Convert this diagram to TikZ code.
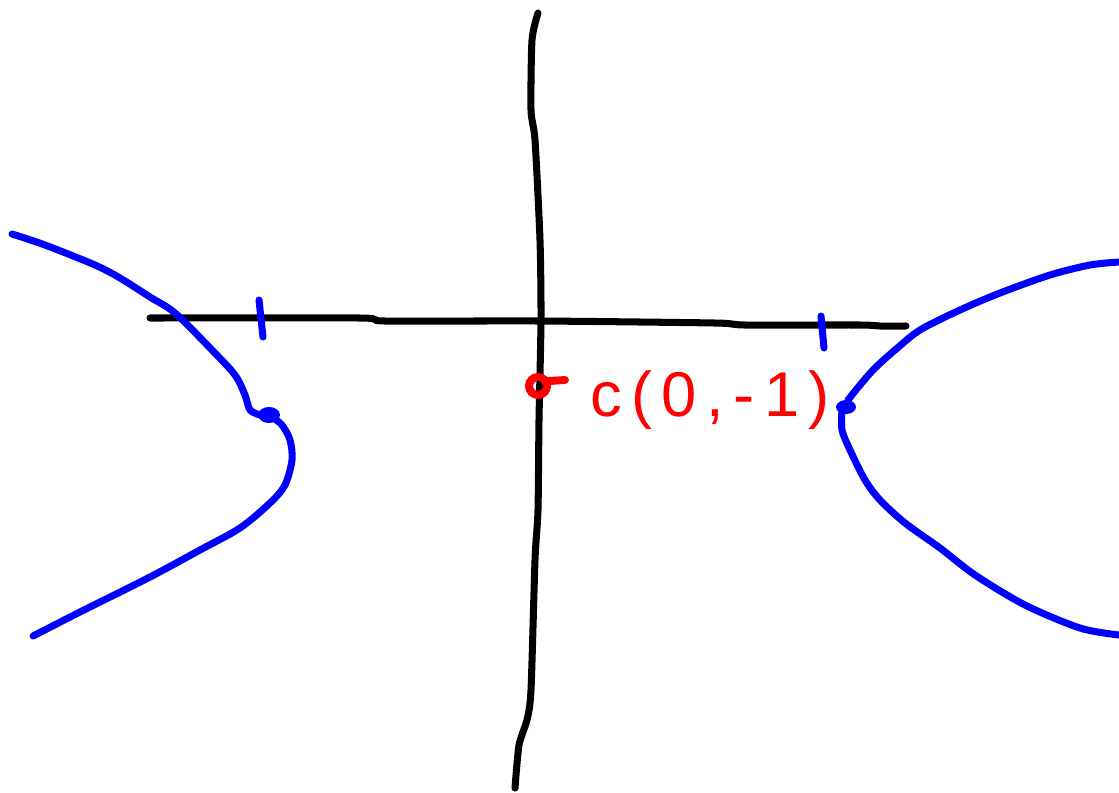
\documentclass[tikz,border=0pt]{standalone}
\usepackage{fontspec}
\newfontfamily\handfont[LetterSpace=15]{Liberation Sans}
\begin{document}
\begin{tikzpicture}[x=0.02cm,y=-0.02cm,
  axis/.style={black,line width=4pt,line cap=round,line join=round},
  curve/.style={blue,line width=4pt,line cap=round,line join=round},
  redmark/.style={red,line width=4.5pt,line cap=round},
  lbl/.style={red,inner sep=0pt,font=\handfont\fontsize{36}{40}\selectfont}]
\useasboundingbox (0,0) rectangle (1119,792);
% axes
\draw[axis] plot[smooth,tension=0.4] coordinates {(538,13) (532,40) (531,110) (535,140) (540,240) (541,320) (539,420) (538,510) (535,560) (531,690) (527,720) (519,745) (515,788)};
\draw[axis] plot[smooth,tension=0.4] coordinates {(150,318) (360,318) (385,321) (540,321) (715,323) (745,325) (860,325) (880,326) (906,326)};
% ticks
\draw[curve] (259,300) -- (263,337);
\draw[curve] (821,316) -- (824,348);
% left branch
\draw[curve] plot[smooth,tension=0.5] coordinates {(12,234) (45,245) (95,265) (120,278) (150,297) (175,313) (212,350) (235,375) (245,395) (250,410) (260,415)};
\fill[blue] (269,415) ellipse (11 and 8);
\coordinate (lv) at (269,415);
\draw[curve] plot[smooth,tension=0.5] coordinates {(272,417) (282,425) (290,440) (292,460) (285,485) (270,503) (240,528) (200,550) (150,577) (80,612) (33,636)};
% right branch
\draw[curve] plot[smooth,tension=0.5] coordinates {(1119,262) (1090,265) (1050,275) (1000,293) (960,310) (920,330) (895,350) (875,368) (860,385) (848,400)};
\fill[blue] (846,407) ellipse (10 and 7);
\coordinate (rv) at (846,407);
\draw[curve] plot[smooth,tension=0.5] coordinates {(842,410) (842,430) (850,450) (865,480) (880,500) (905,523) (940,548) (975,575) (1025,605) (1080,628) (1119,635)};
% red point and label
\draw[redmark] (538,386) circle (9);
\coordinate (c) at (538,386);
\draw[redmark] (549,381) -- (565,380);
\node[lbl,anchor=west] (label) at (590,400) {c(0,-1)};
\end{tikzpicture}
\end{document}
